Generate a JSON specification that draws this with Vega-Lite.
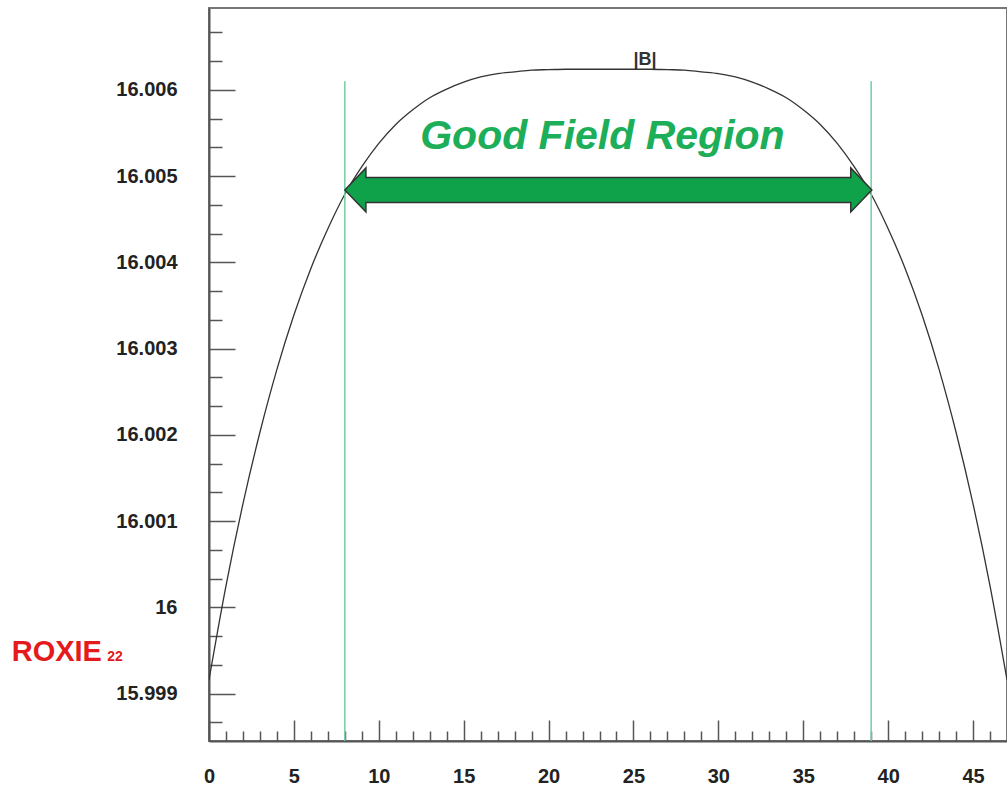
{
  "$schema": "https://vega.github.io/schema/vega-lite/v6.json",
  "width": 798,
  "height": 733,
  "autosize": {"type": "none"},
  "padding": {"left": 209, "top": 8, "right": 0, "bottom": 48},
  "background": "white",
  "config": {
    "view": {"stroke": "#777", "strokeWidth": 2},
    "axis": {"grid": false, "title": null}
  },
  "datasets": {
    "curve": [
      {"x": 0, "B": 15.99916}, {"x": 1, "B": 16.00025}, {"x": 2, "B": 16.0012}, {"x": 3, "B": 16.00203},
      {"x": 4, "B": 16.00276}, {"x": 5, "B": 16.00339}, {"x": 6, "B": 16.00393}, {"x": 7, "B": 16.00439},
      {"x": 8, "B": 16.00479}, {"x": 9, "B": 16.00511}, {"x": 10, "B": 16.00538}, {"x": 11, "B": 16.0056},
      {"x": 12, "B": 16.00577}, {"x": 13, "B": 16.00591}, {"x": 14, "B": 16.00601}, {"x": 15, "B": 16.00609},
      {"x": 16, "B": 16.00615}, {"x": 17, "B": 16.00619}, {"x": 18, "B": 16.00621}, {"x": 19, "B": 16.00623},
      {"x": 20, "B": 16.006235}, {"x": 21, "B": 16.00624}, {"x": 22, "B": 16.00624}, {"x": 23, "B": 16.00624},
      {"x": 24, "B": 16.00624}, {"x": 25, "B": 16.00624}, {"x": 26, "B": 16.00624}, {"x": 27, "B": 16.006235},
      {"x": 28, "B": 16.00623}, {"x": 29, "B": 16.00621}, {"x": 30, "B": 16.00619}, {"x": 31, "B": 16.00615},
      {"x": 32, "B": 16.00609}, {"x": 33, "B": 16.00601}, {"x": 34, "B": 16.00591}, {"x": 35, "B": 16.00577},
      {"x": 36, "B": 16.0056}, {"x": 37, "B": 16.00538}, {"x": 38, "B": 16.00511}, {"x": 39, "B": 16.00479},
      {"x": 40, "B": 16.00439}, {"x": 41, "B": 16.00393}, {"x": 42, "B": 16.00339}, {"x": 43, "B": 16.00276},
      {"x": 44, "B": 16.00203}, {"x": 45, "B": 16.0012}, {"x": 46, "B": 16.00025}, {"x": 47, "B": 15.99916}
    ],
    "limits": [
      {"x": 8, "top": 16.0061, "bottom": 15.99845},
      {"x": 39, "top": 16.0061, "bottom": 15.99845}
    ],
    "arrow": [{"x": 23.52, "y": 16.00484}]
  },
  "resolve": {"axis": {"x": "independent", "y": "independent"}},
  "layer": [
    {
      "data": {"name": "curve"},
      "mark": {"type": "line", "color": "#333", "strokeWidth": 1.3, "interpolate": "monotone", "clip": true},
      "encoding": {
        "x": {
          "field": "x", "type": "quantitative",
          "scale": {"domain": [0, 47], "nice": false, "zero": false},
          "axis": {
            "orient": "bottom", "values": [0, 5, 10, 15, 20, 25, 30, 35, 40, 45],
            "ticks": false, "domain": true, "domainColor": "#555", "domainWidth": 2,
            "labelFont": "Liberation Sans", "labelFontWeight": "bold", "labelFontSize": 20,
            "labelColor": "#222", "labelPadding": 25, "labelFlush": false, "labelOverlap": false, "title": null
          }
        },
        "y": {
          "field": "B", "type": "quantitative",
          "scale": {"domain": [15.99845, 16.00695], "nice": false, "zero": false},
          "axis": {
            "orient": "left", "values": [15.999, 16, 16.001, 16.002, 16.003, 16.004, 16.005, 16.006],
            "format": ".3~f", "ticks": false, "domain": true, "domainColor": "#555", "domainWidth": 2,
            "labelFont": "Liberation Sans", "labelFontWeight": "bold", "labelFontSize": 20,
            "labelColor": "#222", "labelPadding": 32, "labelFlush": false, "labelOverlap": false, "title": null
          }
        }
      }
    },
    {
      "data": {"name": "limits"},
      "mark": {"type": "rule", "color": "#6fcfa4", "strokeWidth": 1.5},
      "encoding": {
        "x": {
          "field": "x", "type": "quantitative",
          "scale": {"domain": [0, 47], "nice": false, "zero": false},
          "axis": {
            "orient": "bottom", "values": [0, 5, 10, 15, 20, 25, 30, 35, 40, 45],
            "labels": false, "domain": false, "ticks": true, "tickSize": -21,
            "tickColor": "#555", "tickWidth": 1.5, "title": null
          }
        },
        "y": {
          "field": "top", "type": "quantitative",
          "scale": {"domain": [15.99845, 16.00695], "nice": false, "zero": false},
          "axis": {
            "orient": "left", "values": [15.999, 16, 16.001, 16.002, 16.003, 16.004, 16.005, 16.006],
            "labels": false, "domain": false, "ticks": true, "tickSize": -26,
            "tickColor": "#555", "tickWidth": 1.5, "title": null
          }
        },
        "y2": {"field": "bottom"}
      }
    },
    {
      "data": {"name": "arrow"},
      "mark": {
        "type": "point", "filled": true, "fill": "#10a24b", "stroke": "#333", "strokeWidth": 1.5, "opacity": 1,
        "size": 277729,
        "shape": "M-1,0L-0.92,-0.0835L-0.92,-0.0474L0.92,-0.0474L0.92,-0.0835L1,0L0.92,0.0835L0.92,0.0474L-0.92,0.0474L-0.92,0.0835Z"
      },
      "encoding": {
        "x": {
          "field": "x", "type": "quantitative",
          "scale": {"domain": [0, 47], "nice": false, "zero": false},
          "axis": {
            "orient": "bottom",
            "values": [1, 2, 3, 4, 6, 7, 8, 9, 11, 12, 13, 14, 16, 17, 18, 19, 21, 22, 23, 24, 26, 27, 28, 29, 31, 32, 33, 34, 36, 37, 38, 39, 41, 42, 43, 44, 46],
            "labels": false, "domain": false, "ticks": true, "tickSize": -10,
            "tickColor": "#555", "tickWidth": 1.5, "title": null
          }
        },
        "y": {
          "field": "y", "type": "quantitative",
          "scale": {"domain": [15.99845, 16.00695], "nice": false, "zero": false},
          "axis": {
            "orient": "left",
            "values": [15.998667, 15.999333, 15.999667, 16.000333, 16.000667, 16.001333, 16.001667, 16.002333, 16.002667, 16.003333, 16.003667, 16.004333, 16.004667, 16.005333, 16.005667, 16.006333, 16.006667],
            "labels": false, "domain": false, "ticks": true, "tickSize": -13,
            "tickColor": "#555", "tickWidth": 1.5, "title": null
          }
        }
      }
    },
    {
      "data": {"values": [{"label": "Good Field Region", "x": 23.17, "y": 16.00531}]},
      "mark": {"type": "text", "font": "Liberation Sans", "fontWeight": "bold", "fontStyle": "italic", "fontSize": 41, "color": "#1cae58", "align": "center", "baseline": "alphabetic"},
      "encoding": {
        "x": {"field": "x", "type": "quantitative", "scale": {"domain": [0, 47], "nice": false, "zero": false}, "axis": null},
        "y": {"field": "y", "type": "quantitative", "scale": {"domain": [15.99845, 16.00695], "nice": false, "zero": false}, "axis": null},
        "text": {"field": "label"}
      }
    },
    {
      "data": {"values": [{"label": "|B|", "x": 25.68, "y": 16.00629}]},
      "mark": {"type": "text", "font": "Liberation Sans", "fontWeight": "bold", "fontSize": 18, "color": "#333", "align": "center", "baseline": "alphabetic"},
      "encoding": {
        "x": {"field": "x", "type": "quantitative", "scale": {"domain": [0, 47], "nice": false, "zero": false}, "axis": null},
        "y": {"field": "y", "type": "quantitative", "scale": {"domain": [15.99845, 16.00695], "nice": false, "zero": false}, "axis": null},
        "text": {"field": "label"}
      }
    },
    {
      "data": {"values": [{"label": "ROXIE", "x": -11.62, "y": 15.99938}]},
      "mark": {"type": "text", "font": "Liberation Sans", "fontWeight": "bold", "fontSize": 29, "color": "#e41a1c", "align": "left", "baseline": "alphabetic"},
      "encoding": {
        "x": {"field": "x", "type": "quantitative", "scale": {"domain": [0, 47], "nice": false, "zero": false}, "axis": null},
        "y": {"field": "y", "type": "quantitative", "scale": {"domain": [15.99845, 16.00695], "nice": false, "zero": false}, "axis": null},
        "text": {"field": "label"}
      }
    },
    {
      "data": {"values": [{"label": "22", "x": -6.0, "y": 15.99938}]},
      "mark": {"type": "text", "font": "Liberation Sans", "fontWeight": "bold", "fontSize": 14, "color": "#e41a1c", "align": "left", "baseline": "alphabetic"},
      "encoding": {
        "x": {"field": "x", "type": "quantitative", "scale": {"domain": [0, 47], "nice": false, "zero": false}, "axis": null},
        "y": {"field": "y", "type": "quantitative", "scale": {"domain": [15.99845, 16.00695], "nice": false, "zero": false}, "axis": null},
        "text": {"field": "label"}
      }
    }
  ]
}
